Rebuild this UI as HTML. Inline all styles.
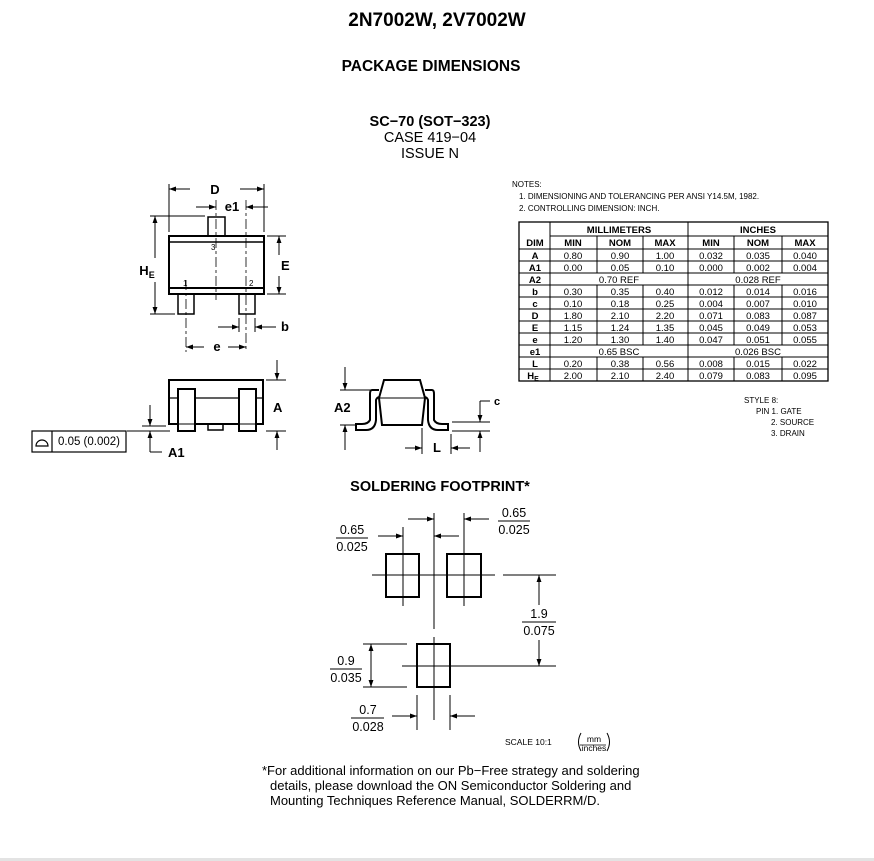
<!DOCTYPE html>
<html><head><meta charset="utf-8"><style>
html,body{margin:0;padding:0;background:#fff}
svg{display:block}
text{font-family:"Liberation Sans",Arial,sans-serif;fill:#000}
.b{font-weight:bold}
</style></head><body>
<svg width="874" height="861" viewBox="0 0 874 861" xmlns="http://www.w3.org/2000/svg">
<defs>
<marker id="ar" viewBox="0 0 10 10" refX="10" refY="5" markerWidth="9" markerHeight="7" orient="auto" markerUnits="userSpaceOnUse"><path d="M0,1.5 L10,5 L0,8.5 z" fill="#000"/></marker>
</defs>
<rect x="0" y="858" width="874" height="3" fill="#e3e3e3"/>
<text x="437" y="26" font-size="19" class="b" text-anchor="middle">2N7002W, 2V7002W</text>
<text x="431" y="71" font-size="15.5" class="b" text-anchor="middle">PACKAGE DIMENSIONS</text>
<text x="430" y="126" font-size="14.5" class="b" text-anchor="middle">SC−70 (SOT−323)</text>
<text x="430" y="142" font-size="14.5" text-anchor="middle">CASE 419−04</text>
<text x="430" y="158" font-size="14.5" text-anchor="middle">ISSUE N</text>

<g stroke="#000" fill="none" stroke-width="1">
<rect x="169" y="236" width="95" height="58" stroke-width="2"/>
<line x1="169" y1="242" x2="264" y2="242" stroke-width="1.5"/>
<line x1="169" y1="288" x2="264" y2="288" stroke-width="2"/>
<rect x="208" y="217" width="17" height="19" stroke-width="1.5"/>
<rect x="178" y="294" width="16" height="20" stroke-width="1.5"/>
<rect x="239" y="294" width="16" height="20" stroke-width="1.5"/>
<line x1="216" y1="200" x2="216" y2="300" stroke-dasharray="10,3,3,3" stroke-width="0.8"/>
<line x1="186" y1="280" x2="186" y2="352" stroke-dasharray="10,3,3,3" stroke-width="0.8"/>
<line x1="246" y1="200" x2="246" y2="352" stroke-dasharray="10,3,3,3" stroke-width="0.8"/>
<line x1="169" y1="184" x2="169" y2="232"/><line x1="264" y1="184" x2="264" y2="232"/>
<line x1="190" y1="189" x2="169" y2="189" marker-end="url(#ar)"/><line x1="240" y1="189" x2="264" y2="189" marker-end="url(#ar)"/>
<line x1="196" y1="207" x2="216" y2="207" marker-end="url(#ar)"/><line x1="268" y1="207" x2="246" y2="207" marker-end="url(#ar)"/>
<line x1="150" y1="216" x2="205" y2="216"/><line x1="150" y1="314" x2="175" y2="314"/>
<line x1="155" y1="258" x2="155" y2="216" marker-end="url(#ar)"/><line x1="155" y1="282" x2="155" y2="314" marker-end="url(#ar)"/>
<line x1="267" y1="236" x2="286" y2="236"/><line x1="267" y1="294" x2="286" y2="294"/>
<line x1="279" y1="255" x2="279" y2="236" marker-end="url(#ar)"/><line x1="279" y1="276" x2="279" y2="294" marker-end="url(#ar)"/>
<line x1="239" y1="318" x2="239" y2="332"/><line x1="255" y1="318" x2="255" y2="332"/>
<line x1="218" y1="327" x2="239" y2="327" marker-end="url(#ar)"/><line x1="276" y1="327" x2="255" y2="327" marker-end="url(#ar)"/>
<line x1="204" y1="347" x2="186" y2="347" marker-end="url(#ar)"/><line x1="228" y1="347" x2="246" y2="347" marker-end="url(#ar)"/>

<rect x="169" y="380" width="94" height="44" stroke-width="2"/>
<line x1="169" y1="398" x2="263" y2="398" stroke-width="1.2"/>
<rect x="178" y="389" width="17" height="42" fill="#fff" stroke-width="2"/>
<rect x="239" y="389" width="17" height="42" fill="#fff" stroke-width="2"/>
<line x1="178" y1="424" x2="195" y2="424"/><line x1="239" y1="424" x2="256" y2="424"/>
<rect x="208" y="424" width="15" height="6" stroke-width="1.5"/>
<line x1="266" y1="380" x2="286" y2="380"/><line x1="266" y1="431" x2="286" y2="431"/>
<line x1="277" y1="360" x2="277" y2="380" marker-end="url(#ar)"/><line x1="277" y1="450" x2="277" y2="431" marker-end="url(#ar)"/>
<line x1="142" y1="426" x2="166" y2="426"/><line x1="127" y1="431" x2="170" y2="431"/>
<line x1="150" y1="405" x2="150" y2="426" marker-end="url(#ar)"/><line x1="150" y1="452" x2="150" y2="431" marker-end="url(#ar)"/>
<line x1="150" y1="452" x2="162" y2="452"/>
<rect x="32" y="431" width="94" height="21" stroke-width="1.2"/>
<line x1="52" y1="431" x2="52" y2="452" stroke-width="1.2"/>
<path d="M36,446 L48,446 A6,6 0 0 0 36,446 Z" stroke-width="1.2"/>

<path d="M384,380 L420,380 L425,398 L422,425 L382,425 L379,398 Z" stroke-width="2"/>
<line x1="379" y1="398" x2="425" y2="398"/>
<path d="M379,390 L372,390 Q370,390 370,394 L370,420 Q368,424 362,424 L356,424 L356,430 L366,430 Q375,430 376,420 L376,400 Q377,397 380,397" stroke-width="2"/>
<path d="M425,390 L432,390 Q434,390 434,394 L434,420 Q436,424 442,424 L448,424 L448,430 L438,430 Q429,430 428,420 L428,400 Q427,397 424,397" stroke-width="2"/>
<line x1="340" y1="390" x2="372" y2="390"/><line x1="340" y1="425" x2="356" y2="425"/>
<line x1="345" y1="367" x2="345" y2="390" marker-end="url(#ar)"/><line x1="345" y1="450" x2="345" y2="425" marker-end="url(#ar)"/>
<line x1="452" y1="422" x2="490" y2="422"/><line x1="452" y1="431" x2="490" y2="431"/>
<line x1="480" y1="401" x2="480" y2="422" marker-end="url(#ar)"/><line x1="480" y1="401" x2="490" y2="401"/>
<line x1="480" y1="452" x2="480" y2="431" marker-end="url(#ar)"/>
<line x1="422" y1="428" x2="422" y2="454"/><line x1="451" y1="434" x2="451" y2="454"/>
<line x1="405" y1="448" x2="422" y2="448" marker-end="url(#ar)"/><line x1="470" y1="448" x2="451" y2="448" marker-end="url(#ar)"/>

<rect x="386" y="554" width="33" height="43" stroke-width="2"/>
<rect x="447" y="554" width="34" height="43" stroke-width="2"/>
<rect x="417" y="644" width="33" height="43" stroke-width="2"/>
<line x1="434" y1="513" x2="434" y2="629"/><line x1="434" y1="637" x2="434" y2="720"/>
<line x1="403" y1="527" x2="403" y2="606"/><line x1="464" y1="513" x2="464" y2="606"/>
<line x1="372" y1="575" x2="495" y2="575"/><line x1="503" y1="575" x2="556" y2="575"/>
<line x1="402" y1="666" x2="556" y2="666"/>
<line x1="408" y1="519" x2="434" y2="519" marker-end="url(#ar)"/><line x1="489" y1="519" x2="464" y2="519" marker-end="url(#ar)"/>
<line x1="378" y1="536" x2="403" y2="536" marker-end="url(#ar)"/><line x1="459" y1="536" x2="434" y2="536" marker-end="url(#ar)"/>
<line x1="539" y1="605" x2="539" y2="575" marker-end="url(#ar)"/><line x1="539" y1="640" x2="539" y2="666" marker-end="url(#ar)"/>
<line x1="363" y1="644" x2="407" y2="644"/><line x1="363" y1="687" x2="407" y2="687"/>
<line x1="371" y1="665" x2="371" y2="644" marker-end="url(#ar)"/><line x1="371" y1="665" x2="371" y2="687" marker-end="url(#ar)"/>
<line x1="417" y1="695" x2="417" y2="730"/><line x1="450" y1="695" x2="450" y2="730"/>
<line x1="392" y1="716" x2="417" y2="716" marker-end="url(#ar)"/><line x1="475" y1="716" x2="450" y2="716" marker-end="url(#ar)"/>
<line x1="336" y1="538" x2="368" y2="538"/><line x1="498" y1="521" x2="530" y2="521"/>
<line x1="522" y1="622" x2="556" y2="622"/><line x1="330" y1="669" x2="362" y2="669"/>
<line x1="351" y1="718" x2="384" y2="718"/>
<line x1="580" y1="745" x2="606" y2="745" stroke-width="0.8"/>
</g>
<path d="M581,733 Q576,742 581,751 M607,733 Q612,742 607,751" stroke="#000" fill="none" stroke-width="1"/>

<g font-size="13" class="b">
<text x="215" y="194" text-anchor="middle">D</text>
<text x="232" y="211" text-anchor="middle">e1</text>
<text x="147" y="275" text-anchor="middle">H<tspan font-size="9" dy="3">E</tspan></text>
<text x="281" y="270" text-anchor="start">E</text>
<text x="281" y="331">b</text>
<text x="217" y="351" text-anchor="middle">e</text>
<text x="273" y="412">A</text>
<text x="168" y="457">A1</text>
<text x="334" y="412">A2</text>
<text x="494" y="405" font-size="11">c</text>
<text x="437" y="452" text-anchor="middle">L</text>
</g>
<g font-size="8">
<text x="211" y="250">3</text><text x="183" y="286">1</text><text x="249" y="286">2</text>
</g>
<text x="89" y="445" font-size="11.5" text-anchor="middle">0.05 (0.002)</text>

<g font-size="8">
<text x="512" y="187">NOTES:</text>
<text x="519" y="199">1.  DIMENSIONING AND TOLERANCING PER ANSI Y14.5M, 1982.</text>
<text x="519" y="211">2.  CONTROLLING DIMENSION: INCH.</text>
</g>

<g stroke="#000" fill="none" stroke-width="1">
<rect x="519" y="222" width="309" height="159" stroke-width="1.3"/>
<line x1="550" y1="222" x2="550" y2="381"/>
<line x1="688" y1="222" x2="688" y2="381"/>
<line x1="550" y1="236" x2="828" y2="236"/>
<line x1="519" y1="249" x2="828" y2="249"/>
<line x1="519" y1="261" x2="828" y2="261"/><line x1="519" y1="273" x2="828" y2="273"/>
<line x1="519" y1="285" x2="828" y2="285"/><line x1="519" y1="297" x2="828" y2="297"/>
<line x1="519" y1="309" x2="828" y2="309"/><line x1="519" y1="321" x2="828" y2="321"/>
<line x1="519" y1="333" x2="828" y2="333"/><line x1="519" y1="345" x2="828" y2="345"/>
<line x1="519" y1="357" x2="828" y2="357"/><line x1="519" y1="369" x2="828" y2="369"/>
<path d="M597,236V273 M643,236V273 M734,236V273 M782,236V273 M597,285V345 M643,285V345 M734,285V345 M782,285V345 M597,357V381 M643,357V381 M734,357V381 M782,357V381"/>
</g>
<g font-size="9.5" text-anchor="middle">
<text x="619" y="233" class="b">MILLIMETERS</text><text x="758" y="233" class="b">INCHES</text>
<g class="b"><text x="535" y="246">DIM</text><text x="573" y="246">MIN</text><text x="620" y="246">NOM</text><text x="665" y="246">MAX</text><text x="711" y="246">MIN</text><text x="758" y="246">NOM</text><text x="805" y="246">MAX</text>
<text x="535" y="259">A</text><text x="535" y="271">A1</text><text x="535" y="283">A2</text><text x="535" y="295">b</text><text x="535" y="307">c</text><text x="535" y="319">D</text><text x="535" y="331">E</text><text x="535" y="343">e</text><text x="535" y="355">e1</text><text x="535" y="367">L</text><text x="533" y="379">H<tspan font-size="7" dy="2">E</tspan></text></g>
<g><text x="573" y="259">0.80</text><text x="620" y="259">0.90</text><text x="665" y="259">1.00</text><text x="711" y="259">0.032</text><text x="758" y="259">0.035</text><text x="805" y="259">0.040</text></g>
<g><text x="573" y="271">0.00</text><text x="620" y="271">0.05</text><text x="665" y="271">0.10</text><text x="711" y="271">0.000</text><text x="758" y="271">0.002</text><text x="805" y="271">0.004</text></g>
<text x="619" y="283">0.70 REF</text><text x="758" y="283">0.028 REF</text>
<g><text x="573" y="295">0.30</text><text x="620" y="295">0.35</text><text x="665" y="295">0.40</text><text x="711" y="295">0.012</text><text x="758" y="295">0.014</text><text x="805" y="295">0.016</text></g>
<g><text x="573" y="307">0.10</text><text x="620" y="307">0.18</text><text x="665" y="307">0.25</text><text x="711" y="307">0.004</text><text x="758" y="307">0.007</text><text x="805" y="307">0.010</text></g>
<g><text x="573" y="319">1.80</text><text x="620" y="319">2.10</text><text x="665" y="319">2.20</text><text x="711" y="319">0.071</text><text x="758" y="319">0.083</text><text x="805" y="319">0.087</text></g>
<g><text x="573" y="331">1.15</text><text x="620" y="331">1.24</text><text x="665" y="331">1.35</text><text x="711" y="331">0.045</text><text x="758" y="331">0.049</text><text x="805" y="331">0.053</text></g>
<g><text x="573" y="343">1.20</text><text x="620" y="343">1.30</text><text x="665" y="343">1.40</text><text x="711" y="343">0.047</text><text x="758" y="343">0.051</text><text x="805" y="343">0.055</text></g>
<text x="619" y="355">0.65 BSC</text><text x="758" y="355">0.026 BSC</text>
<g><text x="573" y="367">0.20</text><text x="620" y="367">0.38</text><text x="665" y="367">0.56</text><text x="711" y="367">0.008</text><text x="758" y="367">0.015</text><text x="805" y="367">0.022</text></g>
<g><text x="573" y="379">2.00</text><text x="620" y="379">2.10</text><text x="665" y="379">2.40</text><text x="711" y="379">0.079</text><text x="758" y="379">0.083</text><text x="805" y="379">0.095</text></g>
</g>

<g font-size="8">
<text x="744" y="403">STYLE 8:</text>
<text x="756" y="414">PIN 1.  GATE</text>
<text x="771" y="425">2.  SOURCE</text>
<text x="771" y="436">3.  DRAIN</text>
</g>

<text x="440" y="491" font-size="14.5" class="b" text-anchor="middle">SOLDERING FOOTPRINT*</text>
<g font-size="12.5" text-anchor="middle">
<text x="352" y="534">0.65</text><text x="352" y="551">0.025</text>
<text x="514" y="517">0.65</text><text x="514" y="534">0.025</text>
<text x="539" y="618">1.9</text><text x="539" y="635">0.075</text>
<text x="346" y="665">0.9</text><text x="346" y="682">0.035</text>
<text x="368" y="714">0.7</text><text x="368" y="731">0.028</text>
</g>
<text x="505" y="745" font-size="8.5">SCALE 10:1</text>
<text x="594" y="742" font-size="8.5" text-anchor="middle">mm</text>
<text x="594" y="751" font-size="8.5" text-anchor="middle">inches</text>
<g font-size="13">
<text x="262" y="775">*For additional information on our Pb−Free strategy and soldering</text>
<text x="270" y="790">details, please download the ON Semiconductor Soldering and</text>
<text x="270" y="805">Mounting Techniques Reference Manual, SOLDERRM/D.</text>
</g>
</svg>
</body></html>
